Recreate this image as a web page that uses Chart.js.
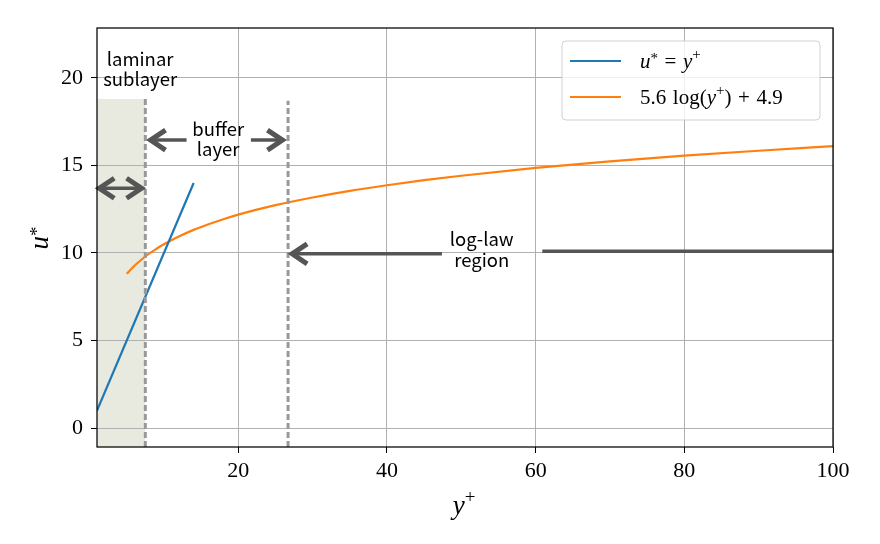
<!DOCTYPE html>
<html><head><meta charset="utf-8">
<script src="https://cdn.jsdelivr.net/npm/chart.js@4"></script>
<style>html,body{margin:0;padding:0;background:#fff}#wrap{width:880px;height:544px}</style>
</head><body><div id="wrap"><canvas id="c" width="880" height="544"></canvas></div>
<script>
// ---- data ----
const linearX = [1, 14];
const linearY = [1, 14];
const logX = [5, 6, 7, 8, 9, 10, 12, 14, 16, 18, 20, 25, 30, 35, 40, 45, 50, 60, 70, 80, 90, 100];
const logY = [8.81, 9.26, 9.63, 9.96, 10.24, 10.5, 10.94, 11.32, 11.64, 11.93, 12.19, 12.73, 13.17, 13.55, 13.87, 14.16, 14.41, 14.86, 15.23, 15.56, 15.84, 16.1];
const xTickVals = [20, 40, 60, 80, 100];
const yTickVals = [0, 5, 10, 15, 20];
const seriesLabels = ['u* = y⁺', '5.6 log(y⁺) + 4.9'];
const xLimits = [1, 100];
const yLimits = [-1.08, 22.85];
const zoneBounds = [1, 7.5, 26.7];   // laminar start, laminar/buffer edge, buffer/log edge
const zoneTop = 18.8;
const laminarLabel = ['laminar', 'sublayer'];
const bufferLabel = ['buffer', 'layer'];
const logLabel = ['log-law', 'region'];
const laminarArrow = { x: [1.1, 7.2], y: 13.7 };
const bufferArrow = { x: [8.0, 13.05, 21.7, 26.15], y: 16.45 };
const logArrow = { x: [27.05, 47.4, 60.9, 100], y: [9.95, 10.1] };
const laminarTextPos = { x: 6.8, y: [20.68, 19.52] };   // baselines
const bufferTextPos = { x: 17.3, y: [16.7, 15.52] };
const logTextPos = { x: 52.75, y: [10.4, 9.22] };

const BLUE = '#1f77b4', ORANGE = '#ff7f0e', DARK = '#555555';
const SERIF = '"Liberation Serif", "DejaVu Serif", serif';
const SANS = '"Noto Sans CJK SC", "Noto Sans", sans-serif';

function richTokens(text) {
  const out = [];
  for (const ch of text) {
    if (ch === '*') out.push({ t: '*', sup: true, star: true });
    else if (ch === '⁺') out.push({ t: '+', sup: true });
    else out.push({ t: ch, it: 'uy'.includes(ch) });
  }
  return out;
}
function drawRich(ctx, text, x, y, size, align) {
  const toks = richTokens(text);
  const fontOf = k => (k.it ? 'italic ' : '') + (k.sup ? Math.round(size * 0.7) : size) + 'px ' + SERIF;
  let w = 0;
  toks.forEach(k => {
    ctx.font = fontOf(k); k.w = ctx.measureText(k.t).width;
    if (k.t === ' ') k.w *= 1.25;
    w += k.w;
  });
  let cx = align === 'center' ? x - w / 2 : x;
  ctx.textBaseline = 'middle'; ctx.textAlign = 'left';
  toks.forEach(k => {
    ctx.font = fontOf(k);
    const dy = k.star ? -size * 0.12 : (k.sup ? -size * 0.33 : 0);
    ctx.fillText(k.t, cx, y + dy);
    cx += k.w;
  });
}
function head(ctx, tx, y, dir) { // dir=-1 head points left
  ctx.beginPath();
  ctx.moveTo(tx - dir * 15, y - 10);
  ctx.lineTo(tx, y);
  ctx.lineTo(tx - dir * 15, y + 10);
  ctx.stroke();
}

const decor = {
  id: 'decor',
  beforeDraw(chart) {
    const { ctx, scales: { x, y } } = chart;
    ctx.save();
    ctx.fillStyle = '#ffffff';
    ctx.fillRect(0, 0, chart.width, chart.height);
    const x0 = x.getPixelForValue(zoneBounds[0]), x1 = x.getPixelForValue(zoneBounds[1]);
    const yt = y.getPixelForValue(zoneTop), yb = chart.chartArea.bottom;
    ctx.fillStyle = '#e9eadf';
    ctx.fillRect(x0, yt, x1 - x0, yb - yt);
    ctx.restore();
  },
  afterDatasetsDraw(chart) {
    const { ctx, scales: { x, y }, chartArea: ca } = chart;
    ctx.save();
    // dashed boundaries
    ctx.strokeStyle = '#999999'; ctx.lineWidth = 3; ctx.setLineDash([6, 3]);
    [zoneBounds[1], zoneBounds[2]].forEach((b, i) => {
      const px = x.getPixelForValue(b);
      ctx.beginPath();
      ctx.moveTo(px, ca.bottom);
      ctx.lineTo(px, y.getPixelForValue(i === 0 ? zoneTop : zoneTop - 0.1));
      ctx.stroke();
    });
    ctx.setLineDash([]);
    // arrows
    ctx.strokeStyle = DARK; ctx.lineCap = 'butt'; ctx.lineJoin = 'miter';
    const P = v => x.getPixelForValue(v);
    // laminar
    let ly = y.getPixelForValue(laminarArrow.y);
    ctx.lineWidth = 3.5;
    ctx.beginPath(); ctx.moveTo(P(laminarArrow.x[0]) + 2, ly); ctx.lineTo(P(laminarArrow.x[1]) - 2, ly); ctx.stroke();
    ctx.lineWidth = 5;
    head(ctx, P(laminarArrow.x[0]) + 1.5, ly, -1); head(ctx, P(laminarArrow.x[1]) - 1.5, ly, 1);
    // buffer
    let by = y.getPixelForValue(bufferArrow.y);
    ctx.lineWidth = 3.5;
    ctx.beginPath();
    ctx.moveTo(P(bufferArrow.x[0]) + 2, by); ctx.lineTo(P(bufferArrow.x[1]), by);
    ctx.moveTo(P(bufferArrow.x[2]), by); ctx.lineTo(P(bufferArrow.x[3]) - 2, by);
    ctx.stroke();
    ctx.lineWidth = 5;
    head(ctx, P(bufferArrow.x[0]) + 1.5, by, -1); head(ctx, P(bufferArrow.x[3]) - 1.5, by, 1);
    // log-law
    const g1 = y.getPixelForValue(logArrow.y[0]), g2 = y.getPixelForValue(logArrow.y[1]);
    ctx.lineWidth = 3.5;
    ctx.beginPath(); ctx.moveTo(P(logArrow.x[0]) + 2, g1); ctx.lineTo(P(logArrow.x[1]), g1); ctx.stroke();
    ctx.beginPath(); ctx.moveTo(P(logArrow.x[2]), g2); ctx.lineTo(P(logArrow.x[3]), g2); ctx.stroke();
    ctx.lineWidth = 5;
    head(ctx, P(logArrow.x[0]) + 1.5, g1, -1);
    ctx.restore();

    // region labels
    ctx.save();
    ctx.fillStyle = '#000000';
    ctx.font = '18.5px ' + SANS;
    ctx.textAlign = 'center'; ctx.textBaseline = 'alphabetic';
    laminarLabel.forEach((t, i) => ctx.fillText(t, P(laminarTextPos.x), y.getPixelForValue(laminarTextPos.y[i])));
    bufferLabel.forEach((t, i) => ctx.fillText(t, P(bufferTextPos.x), y.getPixelForValue(bufferTextPos.y[i])));
    logLabel.forEach((t, i) => ctx.fillText(t, P(logTextPos.x), y.getPixelForValue(logTextPos.y[i])));
    ctx.restore();
  },
  afterDraw(chart) {
    const { ctx, chartArea: ca } = chart;
    ctx.save();
    // frame
    ctx.strokeStyle = '#000000'; ctx.lineWidth = 1.25;
    ctx.strokeRect(ca.left, ca.top, ca.right - ca.left, ca.bottom - ca.top);
    // legend
    const lx = 562, ly = 41, lw = 258, lh = 79;
    ctx.beginPath();
    ctx.roundRect(lx, ly, lw, lh, 4);
    ctx.fillStyle = 'rgba(255,255,255,0.8)'; ctx.fill();
    ctx.strokeStyle = 'rgba(204,204,204,0.9)'; ctx.lineWidth = 1; ctx.stroke();
    chart.data.datasets.forEach((ds, i) => {
      const yy = 61 + i * 36;
      ctx.strokeStyle = ds.borderColor; ctx.lineWidth = 2;
      ctx.beginPath(); ctx.moveTo(570, yy); ctx.lineTo(621, yy); ctx.stroke();
      ctx.fillStyle = '#000000';
      drawRich(ctx, ds.label, 640, yy + 1, 21, 'left');
    });
    // axis titles
    ctx.fillStyle = '#000000';
    drawRich(ctx, 'y⁺', 464, 507, 27, 'center');
    ctx.save();
    ctx.translate(41, 238); ctx.rotate(-Math.PI / 2);
    drawRich(ctx, 'u*', 0, 0, 27, 'center');
    ctx.restore();
    ctx.restore();
  }
};

new Chart(document.getElementById('c'), {
  type: 'line',
  data: {
    datasets: [
      { label: seriesLabels[0], data: linearX.map((v, i) => ({ x: v, y: linearY[i] })),
        borderColor: BLUE, backgroundColor: BLUE, borderWidth: 2.2, pointRadius: 0, fill: false },
      { label: seriesLabels[1], data: logX.map((v, i) => ({ x: v, y: logY[i] })),
        borderColor: ORANGE, backgroundColor: ORANGE, borderWidth: 2.2, pointRadius: 0, fill: false,
        cubicInterpolationMode: 'monotone' }
    ]
  },
  options: {
    responsive: false, animation: false, devicePixelRatio: 1,
    layout: { padding: { top: 28, right: 47, left: 0, bottom: 0 } },
    plugins: { legend: { display: false }, tooltip: { enabled: false } },
    scales: {
      x: {
        type: 'linear', min: xLimits[0], max: xLimits[1],
        afterBuildTicks: s => { s.ticks = xTickVals.map(v => ({ value: v })); },
        afterFit: s => { s.height = 97; },
        grid: { color: '#b0b0b0', lineWidth: 1, tickLength: 6, tickColor: '#000000', drawTicks: true },
        border: { display: false },
        ticks: { color: '#000000', font: { family: SERIF, size: 22 }, padding: 5, maxRotation: 0 }
      },
      y: {
        type: 'linear', min: yLimits[0], max: yLimits[1],
        afterBuildTicks: s => { s.ticks = yTickVals.map(v => ({ value: v })); },
        afterFit: s => { s.width = 97; },
        grid: { color: '#b0b0b0', lineWidth: 1, tickLength: 6, tickColor: '#000000', drawTicks: true },
        border: { display: false },
        ticks: { color: '#000000', font: { family: SERIF, size: 22 }, padding: 8 }
      }
    }
  },
  plugins: [decor]
});
</script>
</body></html>
